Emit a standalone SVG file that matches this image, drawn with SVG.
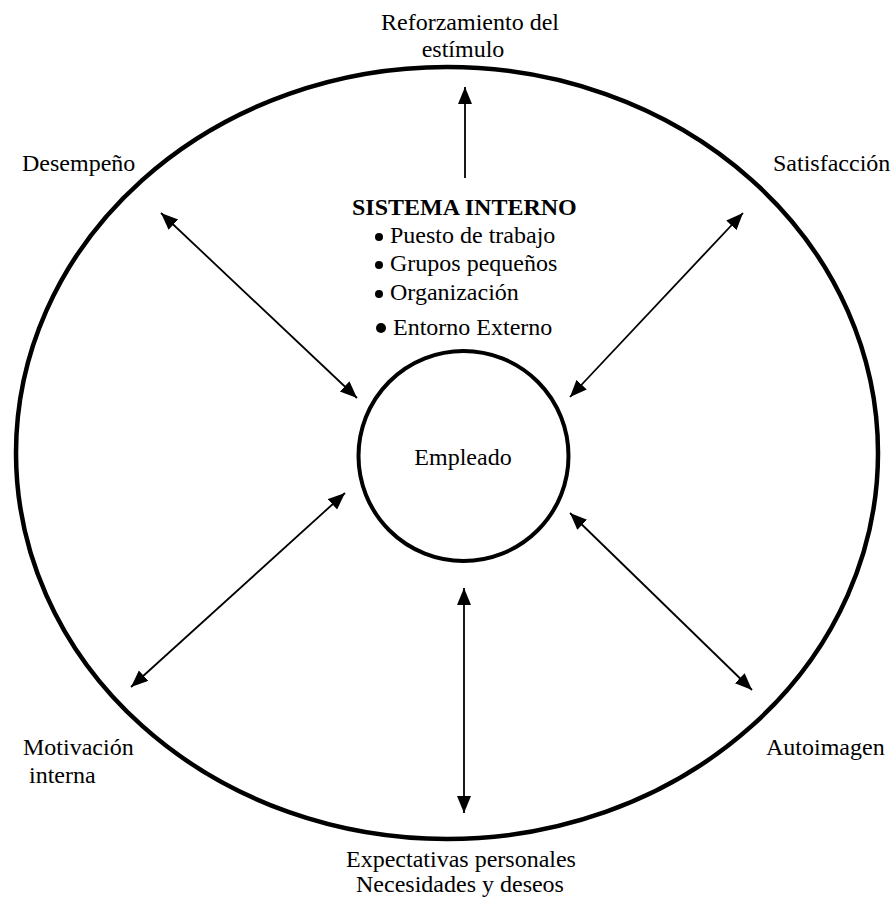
<svg xmlns="http://www.w3.org/2000/svg" width="893" height="900" viewBox="0 0 893 900">
  <style>
    text { font-family: 'Liberation Serif', 'Times New Roman', Times, serif; font-size: 24px; fill: #000; }
    .bold { font-weight: bold; }
    .mid { text-anchor: middle; }
    .ring { fill: none; stroke: #000; stroke-width: 4.5; }
    .link { stroke: #000; stroke-width: 1.8; fill: none; }
  </style>
  <defs>
    <marker id="head" markerUnits="userSpaceOnUse" markerWidth="18" markerHeight="16" refX="17" refY="7" orient="auto-start-reverse">
      <path d="M0,0 L17,7 L0,14 z" fill="#000"/>
    </marker>
  </defs>
  <rect width="893" height="900" fill="#fff"/>

  <!-- outer boundary -->
  <g id="entorno">
    <ellipse class="ring" cx="447" cy="453" rx="431" ry="386"/>
  </g>

  <g font-family="Liberation Serif, serif" font-size="24">
    <!-- central employee node -->
    <g id="empleado">
      <circle cx="463.5" cy="456" r="105" fill="none" stroke="#000" stroke-width="4"/>
      <text class="mid" x="463" y="465">Empleado</text>
    </g>

    <g id="sistema-interno">
      <text class="bold" x="352" y="215">SISTEMA INTERNO</text>
      <circle cx="379" cy="237" r="4"/>
      <text x="390" y="243">Puesto de trabajo</text>
      <circle cx="379" cy="265" r="4"/>
      <text x="390" y="271">Grupos pequeños</text>
      <circle cx="379" cy="294" r="4"/>
      <text x="390" y="300">Organización</text>
      <circle cx="381" cy="328" r="5"/>
      <text x="393" y="335">Entorno Externo</text>
    </g>

    <g id="reforzamiento">
      <text class="mid" x="470" y="30">Reforzamiento del</text>
      <text class="mid" x="463" y="57">estímulo</text>
    </g>
    <g id="desempeno">
      <text x="22" y="171">Desempeño</text>
    </g>
    <g id="satisfaccion">
      <text x="773" y="171">Satisfacción</text>
    </g>
    <g id="motivacion">
      <text x="23" y="755">Motivación</text>
      <text x="29" y="783">interna</text>
    </g>
    <g id="autoimagen">
      <text x="766" y="755">Autoimagen</text>
    </g>
    <g id="expectativas">
      <text class="mid" x="461" y="867">Expectativas personales</text>
      <text class="mid" x="460" y="892">Necesidades y deseos</text>
    </g>
  </g>

  <!-- connectors -->
  <g id="connectors">
    <line class="link" x1="465" y1="178" x2="465" y2="87" marker-end="url(#head)"/>
    <line class="link" x1="161" y1="213" x2="357" y2="398" marker-start="url(#head)" marker-end="url(#head)"/>
    <line class="link" x1="743" y1="213" x2="570" y2="397" marker-start="url(#head)" marker-end="url(#head)"/>
    <line class="link" x1="131" y1="687" x2="345" y2="493" marker-start="url(#head)" marker-end="url(#head)"/>
    <line class="link" x1="752" y1="690" x2="570" y2="513" marker-start="url(#head)" marker-end="url(#head)"/>
    <line class="link" x1="464" y1="588" x2="464" y2="813" marker-start="url(#head)" marker-end="url(#head)"/>
  </g>
</svg>
